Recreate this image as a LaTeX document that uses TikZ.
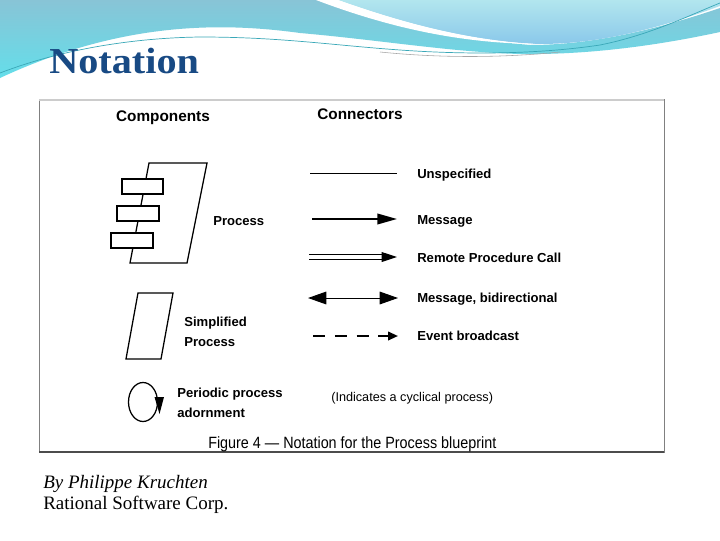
\documentclass[tikz,border=0pt]{standalone}
\usepackage{fontspec}
\setmainfont{Liberation Serif}
\newfontfamily\figfont{Liberation Sans}
\newfontfamily\capfont[FakeStretch=0.88]{Liberation Sans}
\newfontfamily\titlefont[FakeStretch=1.1]{Liberation Serif}
\usetikzlibrary{arrows.meta}

\definecolor{titleblue}{RGB}{24,74,132}
\definecolor{waveblue}{RGB}{136,196,214}
\definecolor{wavecyan}{RGB}{100,222,234}
\definecolor{skyaqua}{RGB}{178,230,238}
\definecolor{skyblue}{RGB}{138,200,234}
\definecolor{waveline}{RGB}{58,168,184}
\definecolor{framegray}{RGB}{128,128,128}
\definecolor{frametop}{RGB}{204,204,204}

\tikzset{
  lbl/.style={font=\figfont\bfseries\fontsize{9.3}{11}\selectfont, anchor=base west, inner sep=0pt},
  hdr/.style={font=\figfont\bfseries\fontsize{10.9}{13}\selectfont, anchor=base, inner sep=0pt},
  shapeline/.style={line width=0.9pt},
  conn/.style={line width=0.7pt}
}

\begin{document}
\begin{tikzpicture}[x=0.025cm,y=-0.025cm]
\useasboundingbox (0,0) rectangle (720,540);
\fill[white] (0,0) rectangle (720,540);

%--------------------------------- top wave
\shade[top color=waveblue, bottom color=wavecyan]
  (0,0) -- (320,0) .. controls (380,20) and (450,38) .. (530,45)
  .. controls (600,45) and (670,25) .. (720,8) -- (720,32)
  .. controls (660,45) and (590,55) .. (520,54)
  .. controls (450,52) and (380,40) .. (300,33)
  .. controls (220,22) and (120,22) .. (0,78) -- cycle;
\shade[top color=skyaqua, bottom color=skyblue]
  (338,0) -- (720,0) -- (720,6) .. controls (660,28) and (600,44) .. (540,44)
  .. controls (470,42) and (400,22) .. (338,0) -- cycle;
\fill[white] (316,0) -- (338,0) .. controls (400,22) and (465,40) .. (535,44)
  .. controls (460,43) and (390,28) .. (316,0) -- cycle;
\draw[waveline, line width=0.5pt] (0,73) .. controls (60,50) and (130,38) .. (200,37)
  .. controls (280,37) and (330,45) .. (400,50) .. controls (470,55) and (540,54) .. (600,45)
  .. controls (650,35) and (690,15) .. (720,3);
\draw[gray!70, line width=0.4pt] (380,52) .. controls (440,58) and (500,58) .. (560,52);

\node[font=\titlefont\bfseries\fontsize{26}{30}\selectfont, text=titleblue, anchor=base west, inner sep=0pt] (title) at (49,73) {Notation};

%--------------------------------- figure frame
\draw[framegray, line width=0.7pt, fill=white] (39,99) rectangle (664,452);
\draw[frametop, line width=2pt] (39,100) -- (664,100);
\draw[gray!60!black, line width=0.8pt] (39,452) -- (664,452);

\node[hdr] (comp) at (163,121.5) {Components};
\node[hdr] (conns) at (360,119.5) {Connectors};

%--------------------------------- components
\draw[shapeline] (149,163) -- (207,163) -- (187,263) -- (130,263) -- cycle;
\draw[line width=1.4pt, fill=white] (122,179) rectangle (163,194);
\draw[shapeline, fill=white] (117,206) rectangle (159,221);
\draw[line width=1.4pt, fill=white] (111,233) rectangle (153,248);
\node[lbl] (proc) at (213,225) {Process};

\draw[shapeline] (138,293) -- (173,293) -- (161,359) -- (126,359) -- cycle;
\node[lbl] (simp1) at (184,326) {Simplified};
\node[lbl] (simp2) at (184,346.5) {Process};

\draw[shapeline] (143,402) ellipse [x radius=14.5, y radius=19.5];
\fill (154.5,397) -- (164,397) -- (159.5,414) -- cycle;
\node[lbl] (peri1) at (177,397.5) {Periodic process};
\node[lbl] (peri2) at (177,417) {adornment};

%--------------------------------- connectors
\coordinate (uns-a) at (310,173);   \coordinate (uns-b) at (397,173);
\coordinate (msg-a) at (312,219);   \coordinate (msg-b) at (397,219);
\coordinate (rpc-a) at (309,257);   \coordinate (rpc-b) at (397,257);
\coordinate (bid-a) at (308,298);   \coordinate (bid-b) at (398,298);
\coordinate (evt-a) at (313,336);   \coordinate (evt-b) at (398,336);

\draw[conn] (uns-a) -- (uns-b);
\draw[line width=1.4pt, -{Triangle[length=14pt,width=7.5pt]}] (msg-a) -- (msg-b);
\draw[line width=0.7pt, double distance=2.6pt, -{Triangle[length=11pt,width=7pt]}] (rpc-a) -- (rpc-b);
\draw[conn, {Triangle[length=13pt,width=9pt]}-{Triangle[length=13pt,width=9pt]}] (bid-a) -- (bid-b);
\draw[line width=1.4pt, dash pattern=on 8.5pt off 7pt, -{Triangle[length=7pt,width=6pt]}] (evt-a) -- (evt-b);

\node[lbl] (l-uns) at (417,178.5) {Unspecified};
\node[lbl] (l-msg) at (417,224.5) {Message};
\node[lbl] (l-rpc) at (417,262.5) {Remote Procedure Call};
\node[lbl] (l-bid) at (417,302.5) {Message, bidirectional};
\node[lbl] (l-evt) at (417,340.5) {Event broadcast};

\node[font=\figfont\fontsize{9}{11}\selectfont, anchor=base west, inner sep=0pt] (cyc) at (331,401) {(Indicates a cyclical process)};
\node[font=\capfont\fontsize{11.6}{14}\selectfont, anchor=base west, inner sep=0pt] (fig) at (208,448) {Figure 4 — Notation for the Process blueprint};

%--------------------------------- credits
\node[font=\itshape\fontsize{13.5}{16}\selectfont, anchor=base west, inner sep=0pt] (auth) at (43,488) {By Philippe Kruchten};
\node[font=\fontsize{13.5}{16}\selectfont, anchor=base west, inner sep=0pt] (corp) at (43,509) {Rational Software Corp.};
\end{tikzpicture}
\end{document}
